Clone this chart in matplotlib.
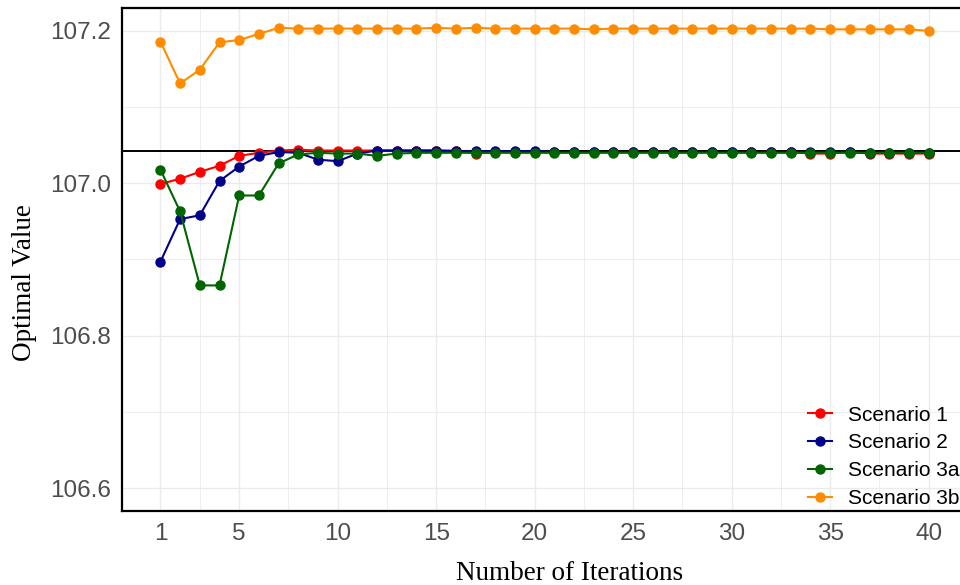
import matplotlib
matplotlib.use("Agg")
import matplotlib.pyplot as plt
import matplotlib.ticker as mticker

# values
iterations = list(range(1, 41))

scenario_1 = [106.999, 107.006, 107.015, 107.023, 107.036, 107.040, 107.043, 107.044,
              107.043, 107.043, 107.043, 107.043, 107.043, 107.043, 107.043, 107.043,
              107.039, 107.041, 107.041, 107.041, 107.041, 107.041, 107.041, 107.041,
              107.041, 107.041, 107.041, 107.041, 107.041, 107.041, 107.041, 107.041,
              107.041, 107.039, 107.039, 107.041, 107.039, 107.039, 107.039, 107.039]

scenario_2 = [106.897, 106.953, 106.958, 107.003, 107.022, 107.036, 107.041, 107.040,
              107.031, 107.029, 107.039, 107.043, 107.043, 107.043, 107.043, 107.042,
              107.042, 107.042, 107.042, 107.042, 107.041, 107.041, 107.041, 107.041,
              107.041, 107.041, 107.041, 107.041, 107.041, 107.041, 107.041, 107.041,
              107.041, 107.041, 107.041, 107.041, 107.040, 107.040, 107.040, 107.040]

scenario_3a = [107.018, 106.963, 106.866, 106.866, 106.984, 106.984, 107.026, 107.038,
               107.040, 107.039, 107.039, 107.036, 107.039, 107.040, 107.040, 107.040,
               107.040, 107.040, 107.040, 107.040, 107.040, 107.040, 107.040, 107.040,
               107.040, 107.040, 107.040, 107.040, 107.040, 107.040, 107.040, 107.040,
               107.040, 107.040, 107.040, 107.040, 107.040, 107.040, 107.040, 107.040]

scenario_3b = [107.186, 107.131, 107.149, 107.185, 107.188, 107.196, 107.204, 107.203,
               107.203, 107.203, 107.203, 107.203, 107.203, 107.203, 107.204, 107.203,
               107.204, 107.203, 107.203, 107.203, 107.203, 107.203, 107.202, 107.203,
               107.203, 107.203, 107.203, 107.203, 107.203, 107.203, 107.203, 107.203,
               107.203, 107.203, 107.202, 107.202, 107.202, 107.202, 107.202, 107.200]

reference_value = 107.042

series = [
    ("Scenario 1", scenario_1, "#FF0000"),
    ("Scenario 2", scenario_2, "#00008B"),
    ("Scenario 3a", scenario_3a, "#006400"),
    ("Scenario 3b", scenario_3b, "#FF8C00"),
]

x_ticks = [1, 5, 10, 15, 20, 25, 30, 35, 40]
x_minor = [3, 7.5, 12.5, 17.5, 22.5, 27.5, 32.5, 37.5]
y_ticks = [106.6, 106.8, 107.0, 107.2]
y_minor = [106.7, 106.9, 107.1]

fig = plt.figure(figsize=(9.6, 5.85), dpi=100)
# panel runs slightly past the right edge, as in the cropped original
ax = fig.add_axes([122 / 960, 1 - 511 / 585, 845 / 960, 503 / 585])

for label, values, color in series:
    ax.plot(iterations, values, color=color, linewidth=1.5, marker="o",
            markersize=6.5, label=label, zorder=3)

ax.axhline(reference_value, color="black", linewidth=1.4, zorder=2)

ax.set_xlim(-0.95, 41.95)
ax.set_ylim(106.57, 107.23)
ax.set_xticks(x_ticks)
ax.set_xticks(x_minor, minor=True)
ax.set_yticks(y_ticks)
ax.set_yticks(y_minor, minor=True)
ax.yaxis.set_major_formatter(mticker.FormatStrFormatter("%.1f"))

ax.grid(which="major", color="#EBEBEB", linewidth=1.0, zorder=0)
ax.grid(which="minor", color="#EBEBEB", linewidth=0.6, zorder=0)
ax.set_axisbelow(True)
ax.tick_params(which="both", length=0)
ax.tick_params(axis="both", labelsize=17.5, labelcolor="#4D4D4D",
               labelfontfamily="Liberation Sans")
ax.tick_params(axis="y", pad=8)
ax.tick_params(axis="x", pad=9)

for side in ["top", "left", "bottom", "right"]:
    ax.spines[side].set_color("black")
    ax.spines[side].set_linewidth(1.6)

ax.set_xlabel("Number of Iterations", family="Liberation Serif", fontsize=19.5)
ax.set_ylabel("Optimal Value", family="Liberation Serif", fontsize=19.5)
ax.xaxis.set_label_coords((570 - 122) / 845, (511 - 561) / 503)
ax.yaxis.set_label_coords((37 - 122) / 845, (511 - 283) / 503)

ax.legend(loc="lower left", bbox_to_anchor=(808 / 960, 1 - 508 / 585),
          bbox_transform=fig.transFigure, frameon=False,
          prop={"family": "Liberation Sans", "size": 15},
          handlelength=1.15, handletextpad=0.75, labelspacing=0.42,
          borderaxespad=0, borderpad=0)

fig.savefig("out.png", dpi=100)
